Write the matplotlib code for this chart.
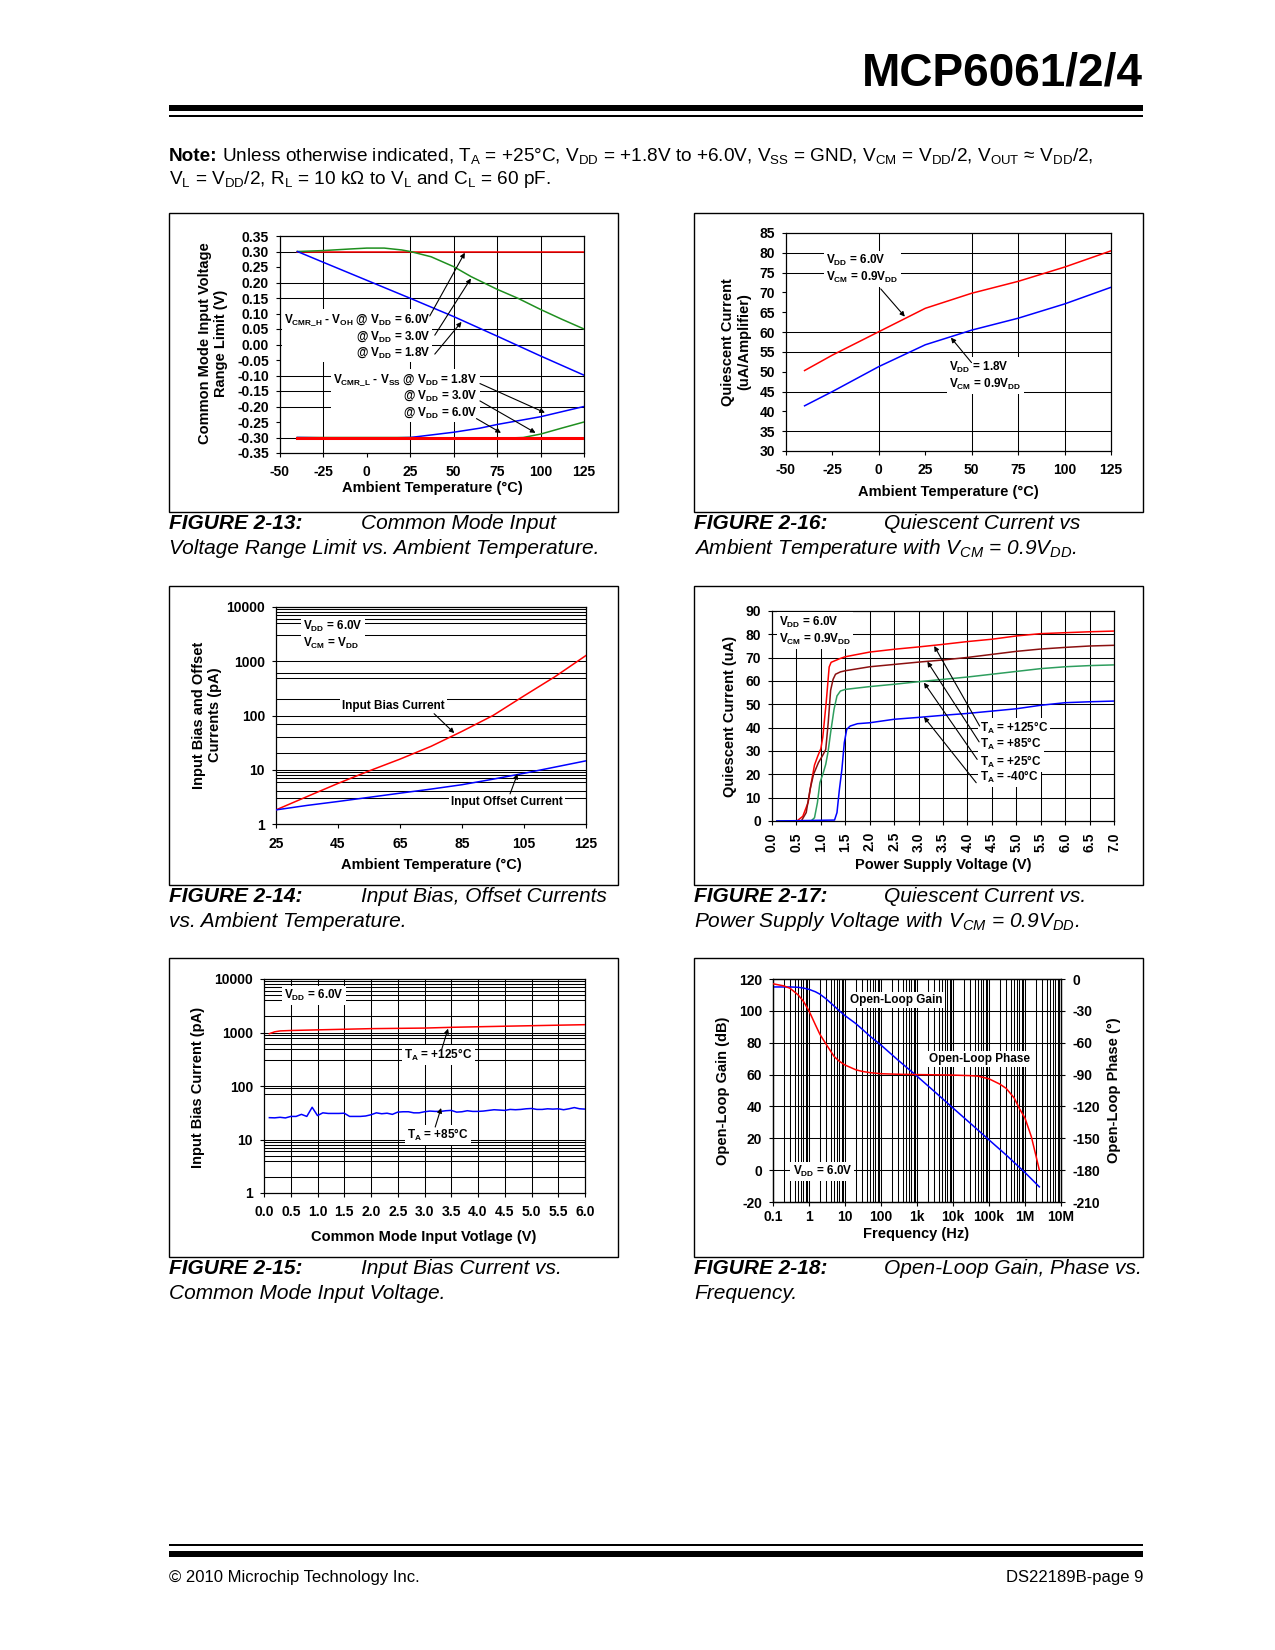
import numpy as np
import matplotlib
matplotlib.use("Agg")
import matplotlib.pyplot as plt
from matplotlib.lines import Line2D
from matplotlib.patches import Rectangle
from matplotlib.ticker import NullLocator

plt.rcParams["font.family"] = ["Liberation Sans", "DejaVu Sans"]
plt.rcParams["font.weight"] = "bold"
plt.rcParams["axes.unicode_minus"] = False
plt.rcParams["mathtext.fontset"] = "custom"
plt.rcParams["mathtext.rm"] = "Liberation Sans:bold"
plt.rcParams["mathtext.bf"] = "Liberation Sans:bold"
plt.rcParams["mathtext.it"] = "Liberation Sans:italic:regular"
plt.rcParams["mathtext.sf"] = "Liberation Sans:regular"

# ---------------- data ----------------
# Figure 2-13: common mode input range limit vs temperature
t13_hi_blue = [-40, -25, 0, 25, 50, 75, 100, 125]
v13_hi_blue = [0.300, 0.265, 0.207, 0.149, 0.090, 0.027, -0.037, -0.099]
t13_hi_green = [-40, -25, -10, 0, 10, 20, 25, 37, 50, 60, 75, 87, 100, 112, 125]
v13_hi_green = [0.300, 0.303, 0.308, 0.311, 0.311, 0.305, 0.300, 0.283, 0.251,
                0.219, 0.178, 0.149, 0.113, 0.082, 0.050]
t13_hi_red = [-40, 125]
v13_hi_red = [0.300, 0.300]
t13_lo_blue = [-40, -25, 0, 25, 50, 65, 75, 100, 125]
v13_lo_blue = [-0.300, -0.301, -0.303, -0.300, -0.283, -0.270, -0.258, -0.233, -0.200]
t13_lo_green = [-40, 25, 50, 75, 90, 100, 112, 125]
v13_lo_green = [-0.300, -0.300, -0.303, -0.303, -0.300, -0.289, -0.270, -0.250]
t13_lo_red = [-40, 125]
v13_lo_red = [-0.300, -0.300]

# Figure 2-16: quiescent current vs temperature
t16 = [-40, -25, 0, 25, 50, 75, 100, 125]
iq16_6v0 = [50.3, 54.2, 60.1, 66.0, 69.8, 72.8, 76.4, 80.5]
iq16_1v8 = [41.4, 45.0, 51.3, 56.8, 60.5, 63.5, 67.1, 71.3]

# Figure 2-14: input bias / offset current vs temperature
t14 = [25, 35, 45, 55, 65, 75, 85, 95, 105, 115, 125]
ib14 = [1.82, 3.2, 5.6, 9.5, 15.7, 27, 51, 100, 230, 520, 1277]
ios14 = [1.82, 2.2, 2.6, 3.1, 3.7, 4.4, 5.3, 6.7, 8.6, 11.2, 14.6]

# Figure 2-17: quiescent current vs supply voltage
vdd17_125 = [0.1, 0.51, 0.63, 0.74, 0.80, 0.87, 0.94, 1.00, 1.04, 1.11, 1.17, 1.21,
             1.39, 1.5, 2.0, 2.5, 3.0, 3.5, 4.0, 4.5, 5.0, 5.5, 6.0, 6.5, 7.0]
iq17_125 = [0, 0, 2, 8, 16, 24, 28, 31, 36, 51, 66, 68,
            69.6, 70.4, 72.4, 73.6, 74.6, 75.7, 76.9, 77.9, 79.3, 80.3, 80.7, 81.1, 81.4]
vdd17_85 = [0.1, 0.60, 0.70, 0.78, 0.85, 0.95, 1.05, 1.10, 1.15, 1.20, 1.25, 1.30,
            1.4, 1.5, 2.0, 2.5, 3.0, 3.5, 4.0, 4.5, 5.0, 5.5, 6.0, 6.5, 7.0]
iq17_85 = [0, 0, 3.6, 13.6, 20, 25, 28.6, 30.7, 42, 56, 60.7, 62.9,
           63.9, 64.4, 66.1, 67.1, 68.1, 69.0, 70.1, 71.4, 72.7, 73.7, 74.4, 75.0, 75.3]
vdd17_25 = [0.1, 0.80, 0.87, 0.93, 0.98, 1.05, 1.10, 1.15, 1.20, 1.27, 1.33, 1.4,
            1.5, 2.0, 2.5, 3.0, 3.5, 4.0, 4.5, 5.0, 5.5, 6.0, 6.5, 7.0]
iq17_25 = [0, 0, 1.4, 7.9, 16.4, 20.7, 24.3, 30, 37.9, 47.9, 53.6, 55.7,
           56.4, 57.6, 58.6, 59.7, 60.7, 61.7, 62.9, 64.1, 65.3, 66.1, 66.6, 66.9]
vdd17_m40 = [0.1, 1.28, 1.33, 1.38, 1.43, 1.48, 1.53, 1.6, 1.75, 2.0, 2.5, 3.0,
             3.5, 4.0, 4.5, 5.0, 5.5, 6.0, 6.5, 7.0]
iq17_m40 = [0, 0.4, 3.6, 13.6, 22, 33.6, 39.3, 40.7, 41.7, 42.1, 43.6, 44.4,
            45.3, 46.1, 47.1, 48.1, 49.6, 50.7, 51.1, 51.4]

# Figure 2-15: input bias current vs common mode input voltage
vcm15_red = [0.1, 0.2, 0.3, 0.5, 1.0, 1.5, 2.0, 2.5, 3.0, 3.5, 4.0, 4.5, 5.0, 5.5, 6.0]
ib15_125 = [950, 1030, 1070, 1090, 1120, 1150, 1180, 1195, 1210, 1250, 1280, 1310,
            1340, 1370, 1400]
vcm15_blue = [0.1, 0.2, 0.3, 0.4, 0.5, 0.6, 0.7, 0.8, 0.9, 1.0,
              1.1, 1.2, 1.3, 1.4, 1.5, 1.6, 1.7, 1.8, 1.9, 2.0,
              2.1, 2.2, 2.3, 2.4, 2.5, 2.6, 2.7, 2.8, 2.9, 3.0,
              3.1, 3.2, 3.3, 3.4, 3.5, 3.6, 3.7, 3.8, 3.9, 4.0,
              4.1, 4.2, 4.3, 4.4, 4.5, 4.6, 4.7, 4.8, 4.9, 5.0,
              5.1, 5.2, 5.3, 5.4, 5.5, 5.6, 5.7, 5.8, 5.9, 6.0]
ib15_85 = [25.6, 25.4, 26.0, 25.3, 27.0, 27.0, 29.5, 27.0, 40.0, 28.0,
           31.5, 30.7, 30.7, 30.7, 31.0, 27.0, 27.0, 27.0, 27.5, 29.0,
           31.5, 30.3, 31.0, 29.5, 32.5, 33.0, 33.0, 31.5, 31.5, 33.0,
           34.0, 33.5, 33.5, 34.5, 35.0, 32.5, 33.0, 34.5, 33.5, 33.5,
           34.0, 35.0, 36.0, 35.5, 35.0, 36.5, 36.0, 36.5, 37.5, 38.0,
           36.5, 36.5, 37.5, 37.0, 37.5, 36.0, 37.5, 39.5, 37.5, 37.0]

# Figure 2-18: open-loop gain and phase vs frequency
f18_gain = [0.1, 0.2, 0.3, 0.5, 0.7, 1, 1.5, 2, 3, 5, 7, 10, 20, 30, 50, 100, 300,
            1e3, 3e3, 1e4, 3e4, 1e5, 3e5, 1e6, 2.5e6]
gain18 = [115, 115, 115, 114.8, 114.3, 113.5, 112, 110.5, 107.5, 103, 100, 97, 92,
          88.5, 84, 78.5, 69, 59, 49.5, 39, 29.5, 19, 9.5, -1.5, -10.5]
f18_phase = [0.1, 0.2, 0.3, 0.5, 0.7, 1, 1.5, 2, 3, 5, 7, 10, 20, 30, 50, 100, 300,
             1e3, 3e3, 1e4, 3e4, 5e4, 1e5, 2e5, 3e5, 5e5, 7e5, 1e6, 1.5e6, 2e6, 2.5e6]
phase18 = [-4.5, -6.5, -8.8, -15, -21, -30, -43, -52, -61.5, -73, -77.5, -81, -85.5,
           -87, -88.2, -89.2, -89.7, -90, -90.2, -90.5, -91, -91.5, -94, -99, -103,
           -112, -122, -131, -148.5, -166, -180]

# minor log gridlines that show on the printed page, per decade (1-10, 10-100, ...)
minor14 = [[3, 4, 6, 7, 8, 9], [2, 4, 7], [2, 5, 6], [3, 5, 6, 7, 8, 9]]
minor15 = [[2, 4, 5, 6, 7, 8, 9], [7, 9], [3, 5, 6, 8, 9], [2, 4, 5, 6, 7, 8, 9]]

# ---------------- page helpers (pixel coordinates, origin top-left) ----------------
W, H = 1275, 1650
fig = plt.figure(figsize=(12.75, 16.5), dpi=100)
fig.patch.set_facecolor("white")


def ax_px(x0, y0, x1, y1):
    return fig.add_axes([x0 / W, 1 - y1 / H, (x1 - x0) / W, (y1 - y0) / H])


def ftext(x, y, s, **kw):
    return fig.text(x / W, 1 - y / H, s, **kw)


def rule(y, x0, x1, px):
    fig.add_artist(Line2D([x0 / W, x1 / W], [1 - y / H, 1 - y / H],
                          color="black", lw=px * 0.72, solid_capstyle="butt"))


def frame(x0, y0, x1, y1):
    fig.add_artist(Rectangle((x0 / W, 1 - y1 / H), (x1 - x0) / W, (y1 - y0) / H,
                             fill=False, lw=1.0, ec="black", transform=fig.transFigure))


def style(ax, xpad=6, ypad=5):
    for s in ax.spines.values():
        s.set_linewidth(0.9)
        s.set_color("black")
    ax.tick_params(direction="out", length=3, width=0.8, labelsize=10, colors="black")
    ax.tick_params(axis="x", pad=xpad)
    ax.tick_params(axis="y", pad=ypad)
    ax.tick_params(which="minor", length=0)


def hgrid(ax, vals):
    for v in vals:
        ax.axhline(v, color="black", lw=0.75, zorder=1)


def vgrid(ax, vals):
    for v in vals:
        ax.axvline(v, color="black", lw=0.75, zorder=1)


def note(ax, x, y, s, ha="center", va="center", **kw):
    ax.text(x, y, s, ha=ha, va=va, fontsize=8.5, zorder=4,
            bbox=dict(facecolor="white", edgecolor="none", pad=1.5), **kw)


def arrow(ax, tail, head):
    ax.annotate("", xy=head, xytext=tail, zorder=5,
                arrowprops=dict(arrowstyle="-|>", color="black", lw=0.8,
                                mutation_scale=7, shrinkA=0, shrinkB=0))


def log_minor(lo_exp, hi_exp):
    vals = []
    for e in range(lo_exp, hi_exp):
        for m in range(2, 10):
            vals.append(m * 10.0 ** e)
    return vals


def picked_minor(per_decade):
    return [m * 10.0 ** e for e, ms in enumerate(per_decade) for m in ms]


VDD = r"V$_{\mathrm{DD}}$"
VCM = r"V$_{\mathrm{CM}}$"
TA = r"T$_{\mathrm{A}}$"

# ---------------- header ----------------
ftext(1143, 85, "MCP6061/2/4", ha="right", va="baseline", fontsize=33, fontweight="bold")
rule(108, 169, 1143, 6)
rule(116, 169, 1143, 2)

renderer = fig.canvas.get_renderer()
t_note = ftext(169, 161, "Note:", ha="left", va="baseline", fontsize=13.7, fontweight="bold")
nx = t_note.get_window_extent(renderer).x1 + 4
ftext(nx, 161, r"Unless otherwise indicated, T$_{\mathsf{A}}$ = +25°C, V$_{\mathsf{DD}}$ = +1.8V to +6.0V, "
      r"V$_{\mathsf{SS}}$ = GND, V$_{\mathsf{CM}}$ = V$_{\mathsf{DD}}$/2, V$_{\mathsf{OUT}}$ ≈ V$_{\mathsf{DD}}$/2,",
      ha="left", va="baseline", fontsize=13.7, fontweight="normal")
ftext(169, 184, r"V$_{\mathsf{L}}$ = V$_{\mathsf{DD}}$/2, R$_{\mathsf{L}}$ = 10 kΩ to V$_{\mathsf{L}}$ "
      r"and C$_{\mathsf{L}}$ = 60 pF.",
      ha="left", va="baseline", fontsize=13.7, fontweight="normal")

# chart frames
for (y0, y1) in [(213, 512), (586, 885), (958, 1257)]:
    frame(169, y0, 618, y1)
    frame(694, y0, 1143, y1)

# ---------------- Figure 2-13 ----------------
ax1 = ax_px(280, 236, 584, 453)
ax1.set_xlim(-50, 125)
ax1.set_ylim(-0.35, 0.35)
ax1.set_xticks(range(-50, 126, 25))
y1t = np.round(np.arange(-0.35, 0.351, 0.05), 2)
ax1.set_yticks(y1t)
ax1.set_yticklabels(["%.2f" % (v + 0.0) for v in y1t])
style(ax1)
hgrid(ax1, [0.30, 0.20, 0.15, 0.05, 0.00, -0.10, -0.15, -0.20, -0.30])
vgrid(ax1, [-25, 25, 50, 75, 100])
ax1.plot(t13_hi_red, v13_hi_red, color="#ff0000", lw=1.1, zorder=3)
ax1.plot(t13_hi_green, v13_hi_green, color="#1f8f1f", lw=1.1, zorder=3)
ax1.plot(t13_hi_blue, v13_hi_blue, color="#0000ff", lw=1.1, zorder=3)
ax1.plot(t13_lo_green, v13_lo_green, color="#1f8f1f", lw=1.1, zorder=3)
ax1.plot(t13_lo_blue, v13_lo_blue, color="#0000ff", lw=1.1, zorder=3)
ax1.plot(t13_lo_red, v13_lo_red, color="#ff0000", lw=2.2, zorder=3)
note(ax1, 36.5, 0.027,
     r"V$_{\mathrm{CMR\_H}}$ - V$_{\mathrm{OH}}$ @ " + VDD + " = 6.0V\n@ " + VDD + " = 3.0V\n@ " + VDD + " = 1.8V",
     ha="right", multialignment="right")
note(ax1, 63.7, -0.166,
     r"V$_{\mathrm{CMR\_L}}$ - V$_{\mathrm{SS}}$ @ " + VDD + " = 1.8V\n@ " + VDD + " = 3.0V\n@ " + VDD + " = 6.0V",
     ha="right", multialignment="right")
arrow(ax1, (36.2, 0.092), (56.4, 0.296))
arrow(ax1, (39.1, 0.030), (59.9, 0.213))
arrow(ax1, (39.1, -0.031), (54.5, 0.073))
arrow(ax1, (65.1, -0.126), (102.5, -0.220))
arrow(ax1, (65.1, -0.182), (97.1, -0.285))
arrow(ax1, (63.1, -0.239), (77.2, -0.285))
ftext(213, 343, "Common Mode Input Voltage\nRange Limit (V)", rotation=90,
      ha="center", va="center", fontsize=10.5)
ftext(432, 488, "Ambient Temperature (°C)", ha="center", va="center", fontsize=10.5)

# ---------------- Figure 2-16 ----------------
ax2 = ax_px(786, 233, 1111, 451)
ax2.set_xlim(-50, 125)
ax2.set_ylim(30, 85)
ax2.set_xticks(range(-50, 126, 25))
ax2.set_yticks(range(30, 86, 5))
style(ax2)
hgrid(ax2, [35, 45, 55, 60, 75, 80])
vgrid(ax2, [0, 50, 75, 100])
ax2.plot(t16, iq16_6v0, color="#ff0000", lw=1.1, zorder=3)
ax2.plot(t16, iq16_1v8, color="#0000ff", lw=1.1, zorder=3)
note(ax2, -28.3, 75.9, VDD + " = 6.0V\n" + VCM + " = 0.9" + VDD, ha="left", multialignment="left")
note(ax2, 37.9, 49.0, VDD + " = 1.8V\n" + VCM + " = 0.9" + VDD, ha="left", multialignment="left")
arrow(ax2, (1.0, 70.9), (14.0, 63.9))
arrow(ax2, (49.9, 52.3), (38.8, 58.6))
ftext(736, 342, "Quiescent Current\n(uA/Amplifier)", rotation=90,
      ha="center", va="center", fontsize=10.5)
ftext(948, 492, "Ambient Temperature (°C)", ha="center", va="center", fontsize=10.5)

# ---------------- Figure 2-14 ----------------
ax3 = ax_px(276, 607, 586, 824)
ax3.set_yscale("log")
ax3.set_xlim(25, 125)
ax3.set_ylim(1, 10000)
ax3.set_xticks(range(25, 126, 20))
ax3.set_yticks([1, 10, 100, 1000, 10000])
ax3.set_yticklabels(["1", "10", "100", "1000", "10000"])
ax3.yaxis.set_minor_locator(NullLocator())
style(ax3)
hgrid(ax3, [10, 100, 1000] + picked_minor(minor14))
ax3.plot(t14, ib14, color="#ff0000", lw=1.1, zorder=3)
ax3.plot(t14, ios14, color="#0000ff", lw=1.1, zorder=3)
note(ax3, 33.7, 3076, VDD + " = 6.0V\n" + VCM + " = " + VDD, ha="left", multialignment="left")
note(ax3, 62.9, 152, "Input Bias Current")
note(ax3, 99.4, 2.59, "Input Offset Current")
arrow(ax3, (76.0, 108), (82.5, 47.4))
arrow(ax3, (100.5, 3.59), (102.9, 8.4))
ftext(207, 715, "Input Bias and Offset\nCurrents (pA)", rotation=90,
      ha="center", va="center", fontsize=10.5)
ftext(431, 865, "Ambient Temperature (°C)", ha="center", va="center", fontsize=10.5)

# ---------------- Figure 2-17 ----------------
ax4 = ax_px(772, 611, 1114, 821)
ax4.set_xlim(0, 7)
ax4.set_ylim(0, 90)
x4t = np.round(np.arange(0, 7.01, 0.5), 1)
ax4.set_xticks(x4t)
ax4.set_xticklabels(["%.1f" % v for v in x4t], rotation=90)
ax4.set_yticks(range(0, 91, 10))
style(ax4, xpad=5)
hgrid(ax4, range(10, 90, 10))
vgrid(ax4, x4t[1:-1])
ax4.plot(vdd17_125, iq17_125, color="#ff0000", lw=1.1, zorder=3)
ax4.plot(vdd17_85, iq17_85, color="#8b1010", lw=1.1, zorder=3)
ax4.plot(vdd17_25, iq17_25, color="#2e9e5e", lw=1.1, zorder=3)
ax4.plot(vdd17_m40, iq17_m40, color="#0000ff", lw=1.1, zorder=3)
note(ax4, 0.14, 81.6, VDD + " = 6.0V\n" + VCM + " = 0.9" + VDD, ha="left", multialignment="left")
note(ax4, 4.25, 39.7, TA + " = +125°C", ha="left")
note(ax4, 4.25, 32.9, TA + " = +85°C", ha="left")
note(ax4, 4.25, 25.4, TA + " = +25°C", ha="left")
note(ax4, 4.25, 18.9, TA + " = -40°C", ha="left")
arrow(ax4, (4.25, 40.7), (3.32, 75.0))
arrow(ax4, (4.24, 33.9), (3.18, 68.3))
arrow(ax4, (4.20, 26.4), (3.11, 59.3))
arrow(ax4, (4.18, 16.4), (3.11, 44.6))
ftext(730, 716, "Quiescent Current (uA)", rotation=90, ha="center", va="center", fontsize=10.5)
ftext(943, 865, "Power Supply Voltage (V)", ha="center", va="center", fontsize=10.5)

# ---------------- Figure 2-15 ----------------
ax5 = ax_px(264, 979, 585, 1193)
ax5.set_yscale("log")
ax5.set_xlim(0, 6)
ax5.set_ylim(1, 10000)
x5t = np.round(np.arange(0, 6.01, 0.5), 1)
ax5.set_xticks(x5t)
ax5.set_xticklabels(["%.1f" % v for v in x5t])
ax5.set_yticks([1, 10, 100, 1000, 10000])
ax5.set_yticklabels(["1", "10", "100", "1000", "10000"])
ax5.yaxis.set_minor_locator(NullLocator())
style(ax5)
hgrid(ax5, [10, 100, 1000] + picked_minor(minor15))
vgrid(ax5, x5t[1:-1])
ax5.plot(vcm15_red, ib15_125, color="#ff0000", lw=1.1, zorder=3)
ax5.plot(vcm15_blue, ib15_85, color="#0000ff", lw=1.1, zorder=3)
note(ax5, 0.93, 4950, VDD + " = 6.0V")
note(ax5, 3.26, 385, TA + " = +125°C")
note(ax5, 3.25, 12.3, TA + " = +85°C")
arrow(ax5, (3.32, 478), (3.44, 1180))
arrow(ax5, (3.20, 17.1), (3.31, 38.8))
ftext(198, 1087, "Input Bias Current (pA)", rotation=90, ha="center", va="center", fontsize=10.5)
ftext(424, 1237, "Common Mode Input Votlage (V)", ha="center", va="center", fontsize=10.5)

# ---------------- Figure 2-18 ----------------
ax6 = ax_px(773, 979, 1061, 1202)
ax6.set_xscale("log")
ax6.set_xlim(0.1, 1e7)
ax6.set_ylim(-20, 120)
dec = [0.1, 1, 10, 100, 1e3, 1e4, 1e5, 1e6, 1e7]
ax6.set_xticks(dec)
ax6.set_xticklabels(["0.1", "1", "10", "100", "1k", "10k", "100k", "1M", "10M"])
ax6.xaxis.set_minor_locator(NullLocator())
ax6.set_yticks(range(-20, 121, 20))
style(ax6, xpad=2.5)
hgrid(ax6, range(0, 120, 20))
vgrid(ax6, dec[1:-1] + log_minor(-1, 7))
ax6.plot(f18_gain, gain18, color="#0000ff", lw=1.1, zorder=3)
ax6r = ax6.twinx()
ax6r.set_ylim(-210, 0)
ax6r.set_yticks(range(-210, 1, 30))
style(ax6r)
ax6r.plot(f18_phase, phase18, color="#ff0000", lw=1.1, zorder=3)
note(ax6, 268, 106.8, "Open-Loop Gain")
note(ax6, 53300, 70.0, "Open-Loop Phase")
note(ax6, 2.36, -0.9, VDD + " = 6.0V")
ftext(723, 1091, "Open-Loop Gain (dB)", rotation=90, ha="center", va="center", fontsize=10.5)
ftext(1114, 1090, "Open-Loop Phase (°)", rotation=90, ha="center", va="center", fontsize=10.5)
ftext(916, 1234, "Frequency (Hz)", ha="center", va="center", fontsize=10.5)

# ---------------- captions ----------------
captions = [
    (169, 361, 529, "FIGURE 2-13:", "Common Mode Input", "Voltage Range Limit vs. Ambient Temperature."),
    (694, 884, 529, "FIGURE 2-16:", "Quiescent Current vs",
     r"Ambient Temperature with V$_{CM}$ = 0.9V$_{DD}$."),
    (169, 361, 902, "FIGURE 2-14:", "Input Bias, Offset Currents", "vs. Ambient Temperature."),
    (694, 884, 902, "FIGURE 2-17:", "Quiescent Current vs.",
     r"Power Supply Voltage with V$_{CM}$ = 0.9V$_{DD}$."),
    (169, 361, 1274, "FIGURE 2-15:", "Input Bias Current vs.", "Common Mode Input Voltage."),
    (694, 884, 1274, "FIGURE 2-18:", "Open-Loop Gain, Phase vs.", "Frequency."),
]
for x0, xd, yb, fig_id, line1, line2 in captions:
    ftext(x0, yb, fig_id, ha="left", va="baseline", fontsize=15,
          fontweight="bold", fontstyle="italic")
    ftext(xd, yb, line1, ha="left", va="baseline", fontsize=15,
          fontweight="normal", fontstyle="italic")
    ftext(x0, yb + 25, line2, ha="left", va="baseline", fontsize=15,
          fontweight="normal", fontstyle="italic")

# ---------------- footer ----------------
rule(1545, 169, 1143, 2)
rule(1554, 169, 1143, 6)
ftext(169, 1582, "© 2010 Microchip Technology Inc.", ha="left", va="baseline",
      fontsize=12, fontweight="normal")
ftext(1143, 1582, "DS22189B-page 9", ha="right", va="baseline",
      fontsize=12, fontweight="normal")

fig.savefig("out.png", dpi=100, facecolor="white")
